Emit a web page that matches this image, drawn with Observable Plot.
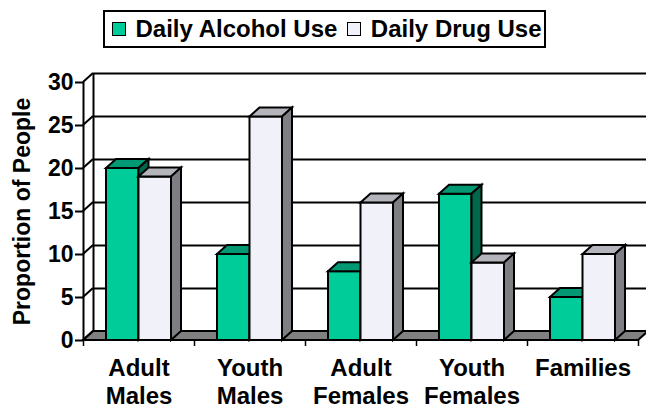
<!DOCTYPE html>
<html>
<head>
<meta charset="utf-8">
<script src="https://cdn.jsdelivr.net/npm/d3@7"></script>
<script src="https://cdn.jsdelivr.net/npm/@observablehq/plot@0.6"></script>
<style>
html, body { margin: 0; padding: 0; background: #fff; }
body { width: 646px; height: 406px; overflow: hidden; font-family: "Liberation Sans", Arial, sans-serif; font-weight: bold; color: #000; }
#legend { position: relative; height: 56px; }
#legend .box { position: absolute; left: 103px; top: 10px; width: 443px; height: 38px; box-sizing: border-box; border: 2.5px solid #000; display: flex; align-items: center; font-size: 24px; white-space: nowrap; }
#legend .sw { width: 14px; height: 14px; box-sizing: border-box; border: 1.5px solid #000; flex: none; margin-right: 10px; }
#chart svg { display: block; overflow: visible; }
</style>
</head>
<body>
<div id="legend"><div class="box"></div></div>
<div id="chart"></div>
<script>
const categories = ["Adult\nMales", "Youth\nMales", "Adult\nFemales", "Youth\nFemales", "Families"];
const alcohol = [20, 10, 8, 17, 5];
const drugs = [19, 26, 16, 9, 10];
const seriesNames = ["Daily Alcohol Use", "Daily Drug Use"];
const yTicks = [0, 5, 10, 15, 20, 25, 30];
const yLabel = "Proportion of People";

const colors = {
  alcohol: { front: "#00CC99", top: "#009973", side: "#00664C" },
  drug: { front: "#F1F1FA", top: "#B4B4BC", side: "#7E7E84" }
};
const DX = 10, DY = 9;
const font = '"Liberation Sans", Arial, sans-serif';

// legend
const box = document.querySelector("#legend .box");
[["alcohol", 6.5], ["drug", 9.5]].forEach(([k, ml], j) => {
  const sw = document.createElement("span");
  sw.className = "sw";
  sw.style.background = colors[k].front;
  sw.style.marginLeft = ml + "px";
  const t = document.createElement("span");
  t.textContent = seriesNames[j];
  box.appendChild(sw);
  box.appendChild(t);
});

const rows = categories.map((c, i) => ({ i, c, alcohol: alcohol[i], drug: drugs[i] }));
const n = categories.length;
const xEdges = d3.range(n + 1);

const plot = Plot.plot({
  width: 646,
  height: 350,
  marginTop: 26,
  marginBottom: 66,
  marginLeft: 83,
  marginRight: 8,
  x: { domain: [0, n], axis: null },
  y: { domain: [0, 30], axis: null },
  style: { fontFamily: font, fontWeight: "bold", fontSize: "23px", color: "black", background: "white", overflow: "visible" },
  marks: [
    Plot.ruleY(yTicks, { x1: 0, x2: n, dx: DX, dy: -DY, stroke: "black", strokeWidth: 2 }),
    Plot.ruleX([0], { y1: 0, y2: 30, dx: DX, dy: -DY, stroke: "black", strokeWidth: 2 }),
    Plot.ruleX([0], { y1: 0, y2: 30, stroke: "black", strokeWidth: 2 }),
    Plot.ruleY(yTicks, { x1: 0, x2: 0, insetLeft: -8, stroke: "black", strokeWidth: 2 }),
    Plot.text(yTicks, { x: 0, y: d => d, text: d => String(d), dx: -10, textAnchor: "end", fontSize: 23, fill: "black" }),
    Plot.rect(rows, { x1: d => d.i, x2: d => d.i + 1, y1: 0, y2: d => d.alcohol, insetLeft: 23, insetRight: 55.5,
      fill: colors.alcohol.front, stroke: "black", strokeWidth: 2, ariaDescription: "alcohol-bars" }),
    Plot.rect(rows, { x1: d => d.i, x2: d => d.i + 1, y1: 0, y2: d => d.drug, insetLeft: 55.5, insetRight: 23,
      fill: colors.drug.front, stroke: "black", strokeWidth: 2, ariaDescription: "drug-bars" }),
    Plot.ruleX(xEdges, { y1: 0, y2: 0, insetBottom: -6, stroke: "black", strokeWidth: 1.5 }),
    Plot.text(rows, { x: d => d.i + 0.5, y: 0, text: d => d.c, dy: 15, lineAnchor: "top", lineHeight: 1.19, fontSize: 24, fill: "black" }),
    Plot.text([yLabel], { frameAnchor: "left", dx: -61, rotate: -90, textAnchor: "middle", fontSize: 23, fill: "black" })
  ]
});
document.getElementById("chart").appendChild(plot);

// 3D decorations derived from the plot's scales
const NS = "http://www.w3.org/2000/svg";
const sx = plot.scale("x"), sy = plot.scale("y");
const x0 = sx.apply(0), xN = sx.apply(n), y0 = sy.apply(0);
function poly(parent, pts, fill, before) {
  const p = document.createElementNS(NS, "polygon");
  p.setAttribute("points", pts.map(q => q.join(",")).join(" "));
  p.setAttribute("fill", fill);
  p.setAttribute("stroke", "black");
  p.setAttribute("stroke-width", 2);
  p.setAttribute("stroke-linejoin", "miter");
  if (before) parent.insertBefore(p, before); else parent.appendChild(p);
  return p;
}
function findGroup(desc) {
  return plot.querySelector(`g[aria-description="${desc}"]`);
}
const alcG = findGroup("alcohol-bars");
const floorG = document.createElementNS(NS, "g");
if (alcG) alcG.parentNode.insertBefore(floorG, alcG); else plot.appendChild(floorG);
poly(floorG, [[x0, y0], [xN, y0], [xN + DX, y0 - DY], [x0 + DX, y0 - DY]], "#808080");
yTicks.forEach(v => {
  const l = document.createElementNS(NS, "line");
  l.setAttribute("x1", x0); l.setAttribute("y1", sy.apply(v));
  l.setAttribute("x2", x0 + DX); l.setAttribute("y2", sy.apply(v) - DY);
  l.setAttribute("stroke", "black"); l.setAttribute("stroke-width", 2);
  floorG.appendChild(l);
});

[["alcohol", "alcohol-bars"], ["drug", "drug-bars"]].forEach(([k, desc]) => {
  const g = findGroup(desc);
  if (!g) return;
  Array.from(g.querySelectorAll("rect")).forEach(r => {
    const x = +r.getAttribute("x"), y = +r.getAttribute("y");
    const w = +r.getAttribute("width"), h = +r.getAttribute("height");
    const next = r.nextSibling;
    poly(r.parentNode, [[x, y], [x + w, y], [x + w + DX, y - DY], [x + DX, y - DY]], colors[k].top, next);
    poly(r.parentNode, [[x + w, y], [x + w, y + h], [x + w + DX, y + h - DY], [x + w + DX, y - DY]], colors[k].side, next);
  });
});
</script>
</body>
</html>
